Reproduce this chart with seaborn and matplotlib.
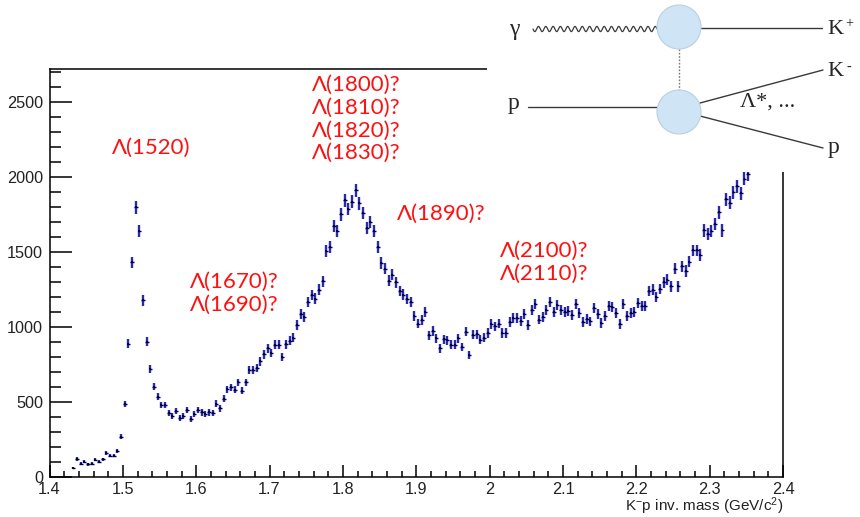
import numpy as np
import pandas as pd
import matplotlib
matplotlib.use("Agg")
import matplotlib.pyplot as plt
from matplotlib.patches import Circle, Rectangle
from matplotlib.ticker import MultipleLocator, FuncFormatter
import seaborn as sns

# K-p invariant-mass histogram: 5 MeV bins starting at 1.430 GeV
bin_lo = 1.430
bin_width = 0.005
counts = [
    60, 118, 87, 100, 83, 87, 112, 100, 116, 156, 140, 140, 171, 267, 484,
    885, 1429, 1794, 1635, 1175, 898, 720, 601, 534, 477,
    477, 424, 406, 437, 393, 406, 446, 384, 419, 446,
    428, 419, 428, 424, 486, 455, 521, 583, 596, 579,
    628, 574, 628, 709, 709, 722, 768, 816, 856, 825,
    879, 879, 796, 883, 907, 927, 1012, 1082, 1062, 1164,
    1211, 1187, 1247, 1303, 1504, 1531, 1670, 1639, 1748, 1841,
    1783, 1832, 1908, 1823, 1757, 1659, 1699, 1637, 1531, 1425,
    1385, 1305, 1345, 1296, 1236, 1213, 1183, 1163, 1073, 1020,
    1042, 1095, 941, 972, 923, 855, 917, 908, 878, 878,
    923, 864, 966, 811, 945, 949, 913, 926, 958, 1016,
    1002, 1020, 958, 958, 1029, 1055, 1055, 1038, 1087, 1011,
    1109, 1153, 1047, 1065, 1109, 1166, 1100, 1144, 1113, 1100,
    1105, 1078, 1153, 1091, 1029, 1049, 1035, 1122, 1084, 1025,
    1073, 1135, 1131, 1091, 1016, 1153, 1073, 1091, 1100, 1158,
    1135, 1135, 1237, 1246, 1198, 1251, 1296, 1314, 1268, 1385,
    1268, 1402, 1371, 1433, 1508, 1508, 1478, 1641, 1619, 1637,
    1686, 1761, 1641, 1850, 1827, 1894, 1934, 1890, 1987, 2018,
]

# Resonance labels and the lines of text in each group
label_groups = [
    ["Λ(1520)"],
    ["Λ(1670)?", "Λ(1690)?"],
    ["Λ(1800)?", "Λ(1810)?", "Λ(1820)?", "Λ(1830)?"],
    ["Λ(1890)?"],
    ["Λ(2100)?", "Λ(2110)?"],
]
# pixel anchor (centre x, centre y of first line) for each label group
label_anchor = [(151, 148), (234, 282), (356, 85), (441, 214), (544, 251)]
line_step = 22.7

xticks_major, xticks_minor = 0.1, 0.02
yticks_major, yticks_minor = 500, 100

mass = bin_lo + bin_width * (np.arange(len(counts)) + 0.5)
df = pd.DataFrame({"mass": mass, "counts": counts})
df["err"] = np.sqrt(df["counts"])

sns.set_style("ticks")
plt.rcParams["font.family"] = ["Liberation Sans", "DejaVu Sans"]
plt.rcParams["mathtext.fontset"] = "custom"
plt.rcParams["mathtext.rm"] = "Liberation Sans"
plt.rcParams["mathtext.it"] = "Liberation Sans:italic"

W, H = 860, 517
fig = plt.figure(figsize=(W / 100, H / 100), dpi=100)
L, R, T, B = 49.5, 783.0, 68.5, 476.7
ax = fig.add_axes([L / W, 1 - B / H, (R - L) / W, (B - T) / H])

ax.errorbar(df["mass"], df["counts"], yerr=df["err"], fmt="none",
            ecolor="#2a2ab0", elinewidth=1.7, capsize=0, zorder=2)
ax.errorbar(df["mass"], df["counts"], xerr=bin_width / 2, fmt="none",
            ecolor="#00004a", elinewidth=1.0, capsize=0, zorder=3)
sns.scatterplot(data=df, x="mass", y="counts", ax=ax, marker="s", s=2,
                color="#000040", edgecolor="none", legend=False, zorder=4)

ax.set_xlim(1.4, 2.4)
ax.set_ylim(0, 2720)
ax.xaxis.set_major_locator(MultipleLocator(xticks_major))
ax.xaxis.set_minor_locator(MultipleLocator(xticks_minor))
ax.yaxis.set_major_locator(MultipleLocator(yticks_major))
ax.yaxis.set_minor_locator(MultipleLocator(yticks_minor))
ax.xaxis.set_major_formatter(FuncFormatter(lambda v, p: f"{v:g}"))
ax.yaxis.set_major_formatter(FuncFormatter(lambda v, p: f"{v:g}"))
ax.tick_params(which="both", direction="in", top=False, right=False,
               width=1.1, color="black", labelsize=11.7, labelcolor="#222222")
ax.tick_params(axis="y", which="major", length=15.8, pad=4.5)
ax.tick_params(axis="y", which="minor", length=7.9)
ax.tick_params(axis="x", which="major", length=8.6, pad=3.5)
ax.tick_params(axis="x", which="minor", length=4.3)
for s in ax.spines.values():
    s.set_linewidth(1.1)
    s.set_color("black")
ax.set_xlabel("")
ax.set_ylabel("")
fig.text(R / W, 1 - 506 / H, r"K$^{-}$p inv. mass (GeV/c$^{2}$)", ha="right",
         va="center", fontsize=11, color="#222222")

for lines, (cx, cy) in zip(label_groups, label_anchor):
    for i, s in enumerate(lines):
        fig.text(cx / W, 1 - (cy + i * line_step) / H, s, ha="center", va="center",
                 color="#ff1010", fontsize=16, family=["Lato", "DejaVu Sans"])

# Reaction diagram gamma p -> K+ K- p in the upper right corner
dx0, dy1 = 487, 172
dax = fig.add_axes([dx0 / W, 1 - dy1 / H, (W - dx0) / W, dy1 / H])
dax.set_zorder(10)
dax.set_xlim(dx0, W)
dax.set_ylim(dy1, 0)
dax.axis("off")
dax.add_patch(Rectangle((0, 0), 1, 1, transform=dax.transAxes,
                        facecolor="white", edgecolor="none", zorder=0))
lc = "#3a3a3a"
t = np.linspace(533, 657, 800)
dax.plot(t, 29 + 2.6 * np.sin(2 * np.pi * (t - 533) / 7.3), color=lc, lw=0.9)
dax.plot([701, 822], [28, 28], color=lc, lw=1.0)
dax.plot([679, 679], [49, 90], color="#777777", lw=1.0, ls=(0, (1.2, 1.2)))
dax.plot([528, 657], [107, 107], color=lc, lw=1.0)
dax.plot([700, 823], [103, 70], color=lc, lw=1.0)
dax.plot([700, 823], [116, 148], color=lc, lw=1.0)
for cy in (27, 112):
    dax.add_patch(Circle((679, cy), 22, facecolor="#cfe5f5", edgecolor="#b8d0e2",
                         lw=0.8, zorder=5))
serif = ["Liberation Serif", "DejaVu Serif"]
dax.text(514, 30, "γ", ha="center", va="center", fontsize=17, family=serif)
dax.text(514, 104, "p", ha="center", va="center", fontsize=17, family=serif)
dax.text(835, 30, "K", ha="center", va="center", fontsize=16, family=serif)
dax.text(849, 24, "+", ha="center", va="center", fontsize=10, family=serif)
dax.text(835, 72, "K", ha="center", va="center", fontsize=16, family=serif)
dax.text(849, 67, "-", ha="center", va="center", fontsize=10, family=serif)
dax.text(834, 148, "p", ha="center", va="center", fontsize=17, family=serif)
dax.text(768, 102, "Λ*, ...", ha="center", va="center", fontsize=16, family=serif)

fig.savefig("out.png", dpi=100)
